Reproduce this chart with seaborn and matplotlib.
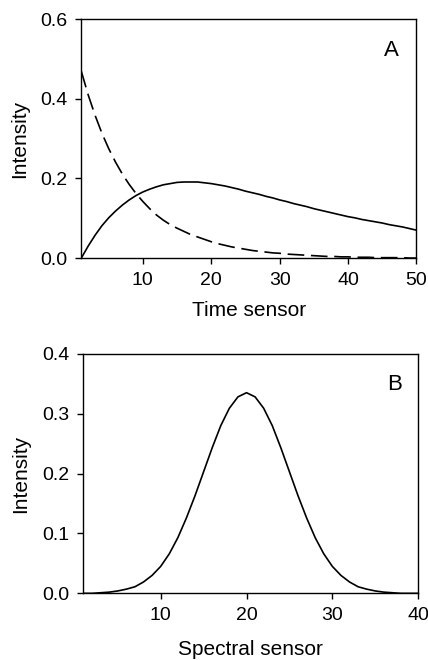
import numpy as np
import pandas as pd
import seaborn as sns
import matplotlib
matplotlib.use("Agg")
import matplotlib.pyplot as plt
from matplotlib.ticker import FormatStrFormatter

# -------------------------------------------------
# DATA
# -------------------------------------------------

time_sensor = list(range(1, 51))

time_solid = [
    0.000, 0.030, 0.057, 0.081, 0.101, 0.118, 0.133, 0.146, 0.157, 0.166,
    0.173, 0.179, 0.184, 0.187, 0.190, 0.191, 0.191, 0.191, 0.189, 0.187,
    0.184, 0.181, 0.177, 0.173, 0.168, 0.164, 0.160, 0.155, 0.151, 0.146,
    0.142, 0.137, 0.133, 0.129, 0.124, 0.120, 0.116, 0.112, 0.108, 0.104,
    0.101, 0.097, 0.094, 0.091, 0.088, 0.084, 0.081, 0.078, 0.074, 0.070,
]

time_dashed = [
    0.469, 0.410, 0.359, 0.314, 0.275, 0.241, 0.211, 0.185, 0.162, 0.142,
    0.124, 0.108, 0.095, 0.084, 0.075, 0.067, 0.059, 0.053, 0.047, 0.041,
    0.036, 0.032, 0.028, 0.025, 0.022, 0.019, 0.017, 0.015, 0.013, 0.012,
    0.010, 0.009, 0.008, 0.007, 0.006, 0.005, 0.004, 0.004, 0.003, 0.003,
    0.002, 0.002, 0.002, 0.001, 0.001, 0.001, 0.001, 0.001, 0.000, 0.000,
]

spectral_sensor = list(range(1, 41))

spectral_values = [
    0.000, 0.000, 0.001, 0.002, 0.004, 0.007, 0.011, 0.019, 0.030, 0.045,
    0.066, 0.093, 0.126, 0.163, 0.203, 0.243, 0.280, 0.309, 0.328, 0.335,
    0.328, 0.309, 0.280, 0.243, 0.203, 0.163, 0.126, 0.093, 0.066, 0.045,
    0.030, 0.019, 0.011, 0.007, 0.004, 0.002, 0.001, 0.000, 0.000, 0.000,
]

time_ticks = [10, 20, 30, 40, 50]
time_yticks = [0.0, 0.2, 0.4, 0.6]
spectral_ticks = [10, 20, 30, 40]
spectral_yticks = [0.0, 0.1, 0.2, 0.3, 0.4]

# -------------------------------------------------
# STYLE
# -------------------------------------------------

sns.set_theme(style="ticks")
plt.rcParams["font.family"] = ["Liberation Sans", "DejaVu Sans"]
plt.rcParams["text.color"] = "black"
plt.rcParams["axes.labelcolor"] = "black"
plt.rcParams["xtick.color"] = "black"
plt.rcParams["ytick.color"] = "black"
plt.rcParams["axes.linewidth"] = 1.0
plt.rcParams["xtick.major.width"] = 1.0
plt.rcParams["ytick.major.width"] = 1.0
plt.rcParams["xtick.major.size"] = 4
plt.rcParams["ytick.major.size"] = 4
plt.rcParams["xtick.major.pad"] = 6
plt.rcParams["ytick.major.pad"] = 6

fig = plt.figure(figsize=(4.28, 6.6), dpi=100)
fig.patch.set_facecolor("white")

ax_a = fig.add_axes([0.190, 0.609, 0.783, 0.362])
ax_b = fig.add_axes([0.195, 0.101, 0.782, 0.363])

# -------------------------------
# PANEL A
# -------------------------------

df_time = pd.DataFrame({
    "sensor": time_sensor,
    "solid": time_solid,
    "dashed": time_dashed,
})

sns.lineplot(data=df_time, x="sensor", y="solid", color="black",
             linewidth=1.2, ax=ax_a)
sns.lineplot(data=df_time, x="sensor", y="dashed", color="black",
             linewidth=1.2, linestyle=(0, (10, 4)), ax=ax_a)

ax_a.set_xlim(1, 50)
ax_a.set_ylim(0, 0.6)
ax_a.set_xticks(time_ticks)
ax_a.set_yticks(time_yticks)
ax_a.yaxis.set_major_formatter(FormatStrFormatter("%.1f"))
ax_a.set_xlabel("Time sensor", fontsize=15)
ax_a.set_ylabel("Intensity", fontsize=15)
ax_a.xaxis.set_label_coords(0.5, -0.18)
ax_a.yaxis.set_label_coords(-0.155, 0.5)
ax_a.text(0.924, 0.870, "A", transform=ax_a.transAxes,
          fontsize=16, ha="center", va="center")

# -------------------------------
# PANEL B
# -------------------------------

df_spec = pd.DataFrame({
    "sensor": spectral_sensor,
    "value": spectral_values,
})

sns.lineplot(data=df_spec, x="sensor", y="value", color="black",
             linewidth=1.2, ax=ax_b)

ax_b.set_xlim(1, 40)
ax_b.set_ylim(0, 0.4)
ax_b.set_xticks(spectral_ticks)
ax_b.set_yticks(spectral_yticks)
ax_b.yaxis.set_major_formatter(FormatStrFormatter("%.1f"))
ax_b.set_xlabel("Spectral sensor", fontsize=15)
ax_b.set_ylabel("Intensity", fontsize=15)
ax_b.xaxis.set_label_coords(0.5, -0.195)
ax_b.yaxis.set_label_coords(-0.16, 0.5)
ax_b.text(0.931, 0.873, "B", transform=ax_b.transAxes,
          fontsize=16, ha="center", va="center")

for ax in (ax_a, ax_b):
    for side in ("top", "right", "left", "bottom"):
        ax.spines[side].set_visible(True)
        ax.spines[side].set_color("black")
    ax.tick_params(colors="black", labelsize=14, direction="out")
    ax.set_facecolor("white")

fig.savefig("out.png", dpi=100, facecolor="white")
plt.close(fig)
